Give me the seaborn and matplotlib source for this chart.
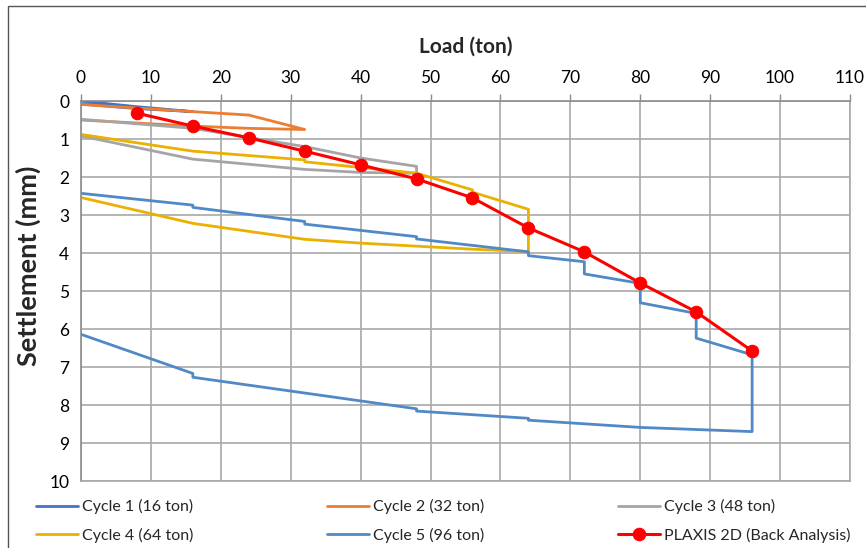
import matplotlib
matplotlib.use("Agg")
import matplotlib.pyplot as plt
import seaborn as sns
import pandas as pd
from matplotlib.patches import Rectangle

# ---------------- data ----------------
c1_load = [0, 8, 16, 8, 0]
c1_sett = [0.0, 0.15, 0.28, 0.2, 0.08]

c2_load = [0, 16, 24, 32, 24, 16, 0]
c2_sett = [0.09, 0.28, 0.37, 0.75, 0.72, 0.66, 0.50]

c3_load = [0, 16, 32, 40, 48, 48, 40, 32, 16, 0]
c3_sett = [0.48, 0.72, 1.20, 1.50, 1.72, 1.90, 1.88, 1.80, 1.53, 0.92]

c4_load = [0, 16, 32, 32, 40, 48, 56, 56, 64, 64, 56, 48, 40, 32, 16, 0]
c4_sett = [0.88, 1.32, 1.55, 1.60, 1.75, 1.90, 2.34, 2.40, 2.85, 3.96,
           3.90, 3.82, 3.74, 3.64, 3.22, 2.54]

c5_load = [0, 16, 16, 32, 32, 48, 48, 64, 64, 72, 72, 80, 80, 88, 88, 96, 96,
           80, 64, 64, 48, 48, 16, 16, 0]
c5_sett = [2.43, 2.74, 2.80, 3.17, 3.24, 3.57, 3.63, 3.97, 4.07, 4.23, 4.55,
           4.80, 5.31, 5.59, 6.24, 6.68, 8.70,
           8.59, 8.40, 8.35, 8.16, 8.10, 7.27, 7.17, 6.14]

plaxis_load = [8, 16, 24, 32, 40, 48, 56, 64, 72, 80, 88, 96]
plaxis_sett = [0.32, 0.66, 0.97, 1.32, 1.68, 2.05, 2.55, 3.34, 3.97, 4.79, 5.55, 6.58]

series_names = ["Cycle 1 (16 ton)", "Cycle 2 (32 ton)", "Cycle 3 (48 ton)",
                "Cycle 4 (64 ton)", "Cycle 5 (96 ton)"]
series_colors = ["#4472C4", "#ED7D31", "#A5A5A5", "#EBB000", "#5089C6"]
plaxis_name = "PLAXIS 2D (Back Analysis)"

x_ticks = list(range(0, 111, 10))
y_ticks = list(range(0, 11))

# ---------------- build table ----------------
frames = []
for name, ld, st in zip(series_names,
                        [c1_load, c2_load, c3_load, c4_load, c5_load],
                        [c1_sett, c2_sett, c3_sett, c4_sett, c5_sett]):
    frames.append(pd.DataFrame({"load": ld, "sett": st, "series": name}))
cycles = pd.concat(frames, ignore_index=True)
plaxis = pd.DataFrame({"load": plaxis_load, "sett": plaxis_sett, "series": plaxis_name})

# ---------------- style ----------------
sns.set_style("white")
plt.rcParams["font.family"] = ["Lato", "DejaVu Sans"]

# ---------------- plot ----------------
fig = plt.figure(figsize=(8.66, 5.48), dpi=100)
ax = fig.add_axes([81 / 866, 1 - 481 / 548, (850 - 81) / 866, (481 - 101) / 548])

for name, col in zip(series_names, series_colors):
    sub = cycles[cycles["series"] == name]
    sns.lineplot(data=sub, x="load", y="sett", sort=False, estimator=None,
                 color=col, linewidth=2.0, ax=ax, label=name)

sns.lineplot(data=plaxis, x="load", y="sett", sort=False, estimator=None,
             color="#FF0000", linewidth=2.2, marker="o", markersize=9,
             markeredgecolor="#FF0000", ax=ax, label=plaxis_name, zorder=5)

ax.set_xlim(0, 110)
ax.set_ylim(10, 0)
ax.set_xticks(x_ticks)
ax.set_yticks(y_ticks)
ax.xaxis.tick_top()
ax.xaxis.set_label_position("top")
ax.grid(True, color="#A8A8A8", linewidth=1.2)
ax.set_axisbelow(True)
for s in ["top", "left"]:
    ax.spines[s].set_color("#8C8C8C")
    ax.spines[s].set_linewidth(1.2)
for s in ["right", "bottom"]:
    ax.spines[s].set_color("#A8A8A8")
    ax.spines[s].set_linewidth(1.2)
ax.tick_params(axis="both", which="both", length=5, width=1, color="#8C8C8C",
               labelsize=12.5, labelcolor="#000000", direction="out")
ax.tick_params(axis="x", pad=6)
ax.set_xlabel("Load (ton)", fontsize=15, fontweight="bold", labelpad=12)
ax.set_ylabel("Settlement (mm)", fontsize=19.5, fontweight="bold")
ax.yaxis.set_label_coords(-40 / 769, (481 - 266) / 380)

handles, labels = ax.get_legend_handles_labels()
ax.get_legend().remove()
order = [0, 3, 1, 4, 2, 5]
fig.legend([handles[i] for i in order], [labels[i] for i in order],
           ncol=3, loc="upper left", bbox_to_anchor=(30 / 866, 1 - 493 / 548),
           frameon=False, fontsize=11.5, handlelength=2.6, handletextpad=0.25,
           columnspacing=8.4, labelspacing=0.85, borderaxespad=0)

fig.add_artist(Rectangle((8 / 866, -0.05), 1.2, 1 - 6 / 548 + 0.05,
                         transform=fig.transFigure, fill=False,
                         edgecolor="#555555", linewidth=1.0))

fig.savefig("out.png", dpi=100)
